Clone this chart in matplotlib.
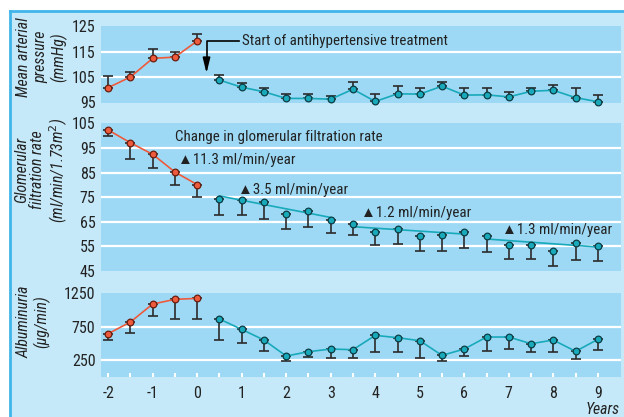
import numpy as np
import matplotlib
matplotlib.use("Agg")
import matplotlib.pyplot as plt
from matplotlib.patches import Rectangle
from matplotlib.lines import Line2D

plt.rcParams['font.family'] = ['Liberation Sans Narrow', 'Roboto Condensed', 'Liberation Sans', 'DejaVu Sans']
plt.rcParams['axes.unicode_minus'] = False

# years: before treatment (red) and after (teal)
years_pre = [-2, -1.5, -1, -0.5, 0]
years_post = [0.5, 1, 1.5, 2, 2.5, 3, 3.5, 4, 4.5, 5, 5.5, 6, 6.5, 7, 7.5, 8, 8.5, 9]

# mean arterial pressure (mmHg), upper error bar ends
map_pre = [100.8, 105.0, 112.3, 112.8, 119.1]
map_pre_hi = [105.4, 107.0, 116.0, 114.8, 121.7]
map_post = [103.8, 101.0, 99.2, 96.6, 96.6, 96.3, 100.2, 95.4, 98.4, 98.3,
            101.4, 97.9, 98.0, 97.2, 99.4, 99.8, 96.9, 95.3]
map_post_hi = [105.9, 102.8, 100.6, 98.5, 98.3, 97.7, 103.2, 98.5, 101.4, 100.5,
               103.2, 100.6, 100.5, 99.1, 100.8, 101.7, 100.5, 97.9]

# glomerular filtration rate, lower error bar ends
gfr_pre = [102.3, 97.1, 92.4, 85.2, 80.1]
gfr_pre_lo = [99.9, 90.7, 86.8, 80.1, 75.0]
gfr_post = [74.1, 73.9, 72.9, 68.3, 69.4, 65.6, 64.0, 60.9, 62.0, 59.4,
            59.6, 60.8, 59.3, 55.5, 55.6, 53.1, 56.2, 55.2]
gfr_post_lo = [67.7, 67.7, 66.1, 62.1, 62.8, 60.4, 59.7, 55.6, 55.9, 53.2,
               53.1, 54.2, 52.7, 49.7, 49.7, 46.9, 49.5, 49.0]

# GFR trend segments: start year, end year, start value, decline per year
trend_start = [0.5, 3.5, 6.5]
trend_end = [3.0, 6.0, 9.0]
trend_y0 = [75.5, 63.0, 58.0]
trend_rate = [3.5, 1.2, 1.3]

# albuminuria (ug/min), lower error bar ends
alb_pre = [645, 820, 1090, 1160, 1175]
alb_pre_lo = [546, 655, 905, 870, 860]
alb_post = [865, 710, 550, 310, 375, 415, 405, 620, 585, 540,
            320, 415, 595, 595, 495, 550, 380, 560]
alb_post_lo = [550, 510, 385, 235, 300, 280, 275, 365, 370, 280,
               240, 305, 380, 410, 370, 370, 270, 395]

outer_bg = '#c6e9f9'
panel_bg = '#9dd9f5'
red = '#ee5a3c'
red_edge = '#6a1e10'
teal = '#18a9ba'
teal_edge = '#0c3c44'
ebar = '#2b2b2b'
txt = '#222222'
fs = 10.8

W, H = 624, 417
fig = plt.figure(figsize=(W / 100, H / 100), dpi=100)
fig.patch.set_facecolor('white')

# outer light panel with blue border on left and top
fig.patches.append(Rectangle((10 / W, 0), 1 - 10 / W, 1 - 11 / H, transform=fig.transFigure,
                             facecolor=outer_bg, edgecolor='none', zorder=-10))
fig.lines.append(Line2D([10 / W, 10 / W], [0, 1 - 11 / H], transform=fig.transFigure,
                        color='#3fb5ea', lw=2, zorder=-9))
fig.lines.append(Line2D([10 / W, 1], [1 - 11 / H, 1 - 11 / H], transform=fig.transFigure,
                        color='#3fb5ea', lw=2, zorder=-9))


def make_axes(top_px, bot_px):
    ax = fig.add_axes([101 / W, 1 - bot_px / H, 520 / W, (bot_px - top_px) / H])
    ax.set_facecolor(panel_bg)
    for s in ax.spines.values():
        s.set_visible(False)
    ax.set_xlim(-2.16, 9.52)
    ax.tick_params(axis='y', length=0, labelsize=fs + 0.7, labelcolor=txt, pad=4)
    return ax


def grid(ax, levels):
    for v in levels:
        ax.axhline(v, color='white', lw=1.6, zorder=1)


def series(ax, x, y, lo, hi, color, edge, connect=True):
    y = np.array(y)
    ax.errorbar(x, y, yerr=[y - np.array(lo), np.array(hi) - y], fmt='none',
                ecolor=ebar, elinewidth=1.2, capsize=3.5, capthick=1.2, zorder=3)
    if connect:
        ax.plot(x, y, color=color, lw=1.2, zorder=4)
    ax.plot(x, y, 'o', ms=4.8, mfc=color, mec=edge, mew=0.9, zorder=5, clip_on=False)


# mean arterial pressure
ax1 = make_axes(26, 102.5)
ax1.set_ylim(95, 125)
ax1.set_yticks([95, 105, 115, 125])
grid(ax1, [105, 115])
series(ax1, years_pre, map_pre, map_pre, map_pre_hi, red, red_edge)
series(ax1, years_post, map_post, map_post, map_post_hi, teal, teal_edge)
ax1.set_xticks([])
ax1.text(1.0, 119.1, 'Start of antihypertensive treatment', fontsize=fs,
         color=txt, va='center', ha='left')
ax1.plot([0.93, 0.21, 0.21], [119.1, 119.1, 110.5], color='black', lw=1.2, zorder=6)
ax1.annotate('', xy=(0.21, 105.4), xytext=(0.21, 111.5),
             arrowprops=dict(arrowstyle='-|>,head_length=0.9,head_width=0.22',
                             color='black', lw=1.2), zorder=6)

# glomerular filtration rate
ax2 = make_axes(123.3, 271)
ax2.set_ylim(45, 105)
ax2.set_yticks([45, 55, 65, 75, 85, 95, 105])
grid(ax2, [55, 65, 75, 85, 95])
series(ax2, years_pre, gfr_pre, gfr_pre_lo, gfr_pre, red, red_edge)
series(ax2, years_post, gfr_post, gfr_post_lo, gfr_post, teal, teal_edge, connect=False)
for x0, x1, y0, r in zip(trend_start, trend_end, trend_y0, trend_rate):
    ax2.plot([x0, x1], [y0, y0 - r * (x1 - x0)], color=teal, lw=1.2, zorder=4)
ax2.set_xticks([])
ax2.text(-0.49, 99.5, 'Change in glomerular filtration rate', fontsize=fs,
         color=txt, va='center', ha='left')
rate_pos = [(-0.44, 90.0), (0.91, 77.9), (3.68, 68.5), (6.84, 61.7)]
rate_labels = ['11.3', '3.5', '1.2', '1.3']
for (x, y), lab in zip(rate_pos, rate_labels):
    ax2.text(x, y, '\u25b2' + lab + ' ml/min/year', fontsize=fs, color=txt,
             va='center', ha='left')

# albuminuria
ax3 = make_axes(292.7, 376.7)
ax3.set_ylim(0, 1260)
ax3.set_yticks([250, 750, 1250])
grid(ax3, [250, 750])
series(ax3, years_pre, alb_pre, alb_pre_lo, alb_pre, red, red_edge)
series(ax3, years_post, alb_post, alb_post_lo, alb_post, teal, teal_edge)
ax3.set_xticks(np.arange(-2, 9.5, 0.5), minor=True)
ax3.set_xticks(np.arange(-2, 10, 1))
ax3.tick_params(axis='x', which='both', direction='in', length=3, width=1.5,
                color='white', labelsize=fs + 0.7, labelcolor=txt, pad=7)

fig.text(620 / W, 1 - 409 / H, 'Years', fontsize=fs + 0.5, style='italic', color=txt,
         ha='right', va='center')

# y axis titles
ylab_kw = dict(rotation=90, ha='center', va='center', multialignment='center',
               fontsize=fs + 0.5, style='italic', color=txt, linespacing=1.15)
fig.text(42 / W, 1 - 57 / H, 'Mean arterial\npressure\n(mmHg)', **ylab_kw)
fig.text(42 / W, 1 - 170 / H, 'Glomerular\nfiltration rate\n(ml/min/1.73m$^2$)', **ylab_kw)
fig.text(33.5 / W, 1 - 322 / H, 'Albuminuria\n(\u00b5g/min)', **ylab_kw)

fig.savefig('out.png', dpi=100)
